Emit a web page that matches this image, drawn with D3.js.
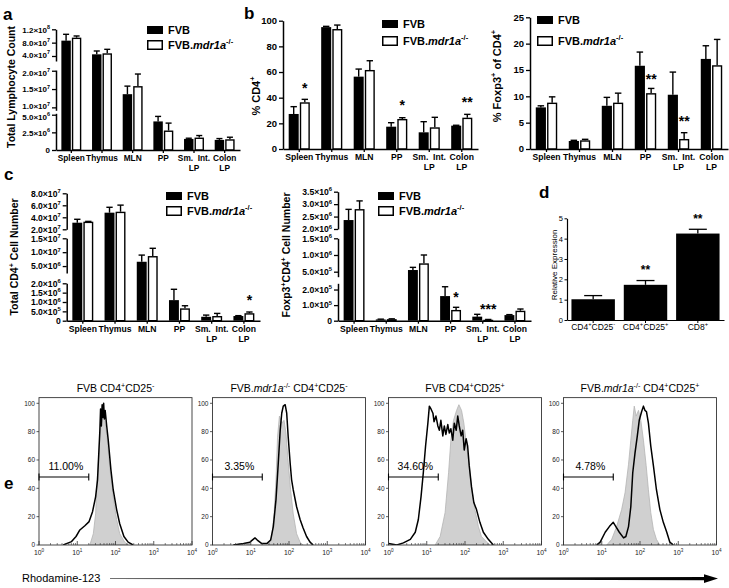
<!DOCTYPE html>
<html><head><meta charset="utf-8">
<script src="https://cdn.jsdelivr.net/npm/d3@7"></script>
<style>body{margin:0;background:#fff}svg{display:block}</style>
</head><body>
<svg id="fig" width="729" height="588"></svg>
<script>
// ================= DATA =================
const categories = ["Spleen","Thymus","MLN","PP","Sm. Int. LP","Colon LP"];
const seriesNames = ["FVB","FVB.<i>mdr1a</i><sup>-/-</sup>"];

// a: Total lymphocyte count
const aFVB    = [8.6e7, 4.5e7, 1.36e7, 4.05e6, 1.57e6, 1.43e6];
const aFVBsem = [1.9e7, 1.0e7, 0.22e7, 0.71e6, 0.10e6, 0.19e6];
const aMdr    = [9.5e7, 4.8e7, 1.58e7, 2.76e6, 1.76e6, 1.52e6];
const aMdrSem = [0.5e7, 1.2e7, 0.33e7, 1.05e6, 0.29e6, 0.29e6];
const aTicks  = [[0, 2.5e6, 5e6], [1e7, 1.5e7, 2e7], [4e7, 8e7, 1.2e8]];

// b left: % CD4+
const bFVB    = [27.3, 95.0, 56.4, 17.4, 13.0, 18.2];
const bFVBsem = [5.7, 0.6, 5.9, 3.1, 8.3, 0.3];
const bMdr    = [36.4, 93.5, 61.6, 23.4, 16.9, 24.4];
const bMdrSem = [2.3, 3.1, 7.2, 1.0, 7.8, 2.6];
const bTicks  = [0, 20, 40, 60, 80, 100];
const bSig    = [["*",0,49],["*",3,35.6],["**",5,38.2]];

// b right: % Foxp3+ of CD4+
const fFVB    = [7.9, 1.52, 8.2, 15.8, 10.3, 17.1];
const fFVBsem = [0.3, 0.13, 1.6, 2.6, 4.3, 2.5];
const fMdr    = [8.8, 1.65, 8.8, 10.6, 1.9, 15.9];
const fMdrSem = [1.1, 0.19, 1.8, 0.9, 1.2, 4.9];
const fTicks  = [0, 5, 10, 15, 20, 25];
const fSig    = [["**",3,13.6],["**",4,5.7]];

// c left: total CD4+ cell number
const cFVB    = [3.1e7, 4.77e7, 6.55e6, 1.1e6, 2.1e5, 2.5e5];
const cFVBsem = [0.57e7, 0.9e7, 2.4e6, 5.8e5, 0.9e5, 0.2e5];
const cMdr    = [3.27e7, 4.93e7, 8.6e6, 6.6e5, 2.5e5, 4.0e5];
const cMdrSem = [0.05e7, 1.1e7, 2.8e6, 1.4e5, 1.4e5, 0.65e5];
const cTicks  = [[0, 5e5, 1e6, 1.5e6, 2e6], [5e6, 1e7, 1.5e7], [2e7, 4e7, 6e7, 8e7]];
const cSig    = [["*",5,1.2e6]];

// c right: Foxp3+CD4+ cell number
const tFVB    = [2.36e6, 8e3, 5.5e5, 1.58e5, 2.6e4, 3.6e4];
const tFVBsem = [0.43e6, 2e3, 0.8e5, 0.6e5, 1.5e4, 0.3e4];
const tMdr    = [2.8e6, 1e4, 7.5e5, 6.9e4, 6e3, 6.4e4];
const tMdrSem = [0.33e6, 2e3, 2.5e5, 1.7e4, 2e3, 1.1e4];
const tTicks  = [[0, 1e5, 2e5], [5e5, 1e6, 1.5e6], [2e6, 2.5e6, 3e6, 3.5e6]];
const tSig    = [["*",3,1.65e5],["***",4,8.8e4]];

// d: relative expression
const dCats   = ["CD4<sup>+</sup>CD25<sup>-</sup>","CD4<sup>+</sup>CD25<sup>+</sup>","CD8<sup>+</sup>"];
const dVals   = [1.02, 1.73, 4.25];
const dSem    = [0.18, 0.21, 0.21];
const dTicks  = [0, 1, 2, 3, 4, 5];
const dSig    = [["",0,0],["**",1,2.6],["**",2,5.1]];

// e: Rhodamine-123 histograms  [intensity, % of max]
const flowTitles = ["FVB CD4<sup>+</sup>CD25<sup>-</sup>",
  "FVB.<i>mdr1a</i><sup>-/-</sup> CD4<sup>+</sup>CD25<sup>-</sup>",
  "FVB CD4<sup>+</sup>CD25<sup>+</sup>",
  "FVB.<i>mdr1a</i><sup>-/-</sup> CD4<sup>+</sup>CD25<sup>+</sup>"];
const gateLabels = ["11.00%","3.35%","34.60%","4.78%"];
const gateRange  = [1, 20];
const flowXTicks = [1, 10, 100, 1000, 10000];
const flowYTicks = [0, 20, 40, 60, 80, 100];
const hist1Gray = [[21.4,0],[26.3,8],[30.2,22],[33.1,46],[36.3,62],[38.9,76],[42.7,86],[47.9,90],[52.5,88],[60.3,76],[70.8,55],[87.1,34],[107,18],[129,8],[174,2],[214,0]];
const hist1Black = [[4.3,0],[5.2,1],[7.1,2.4],[9.3,6],[11.7,10.6],[15.8,13.6],[20.4,16.5],[25.1,23.5],[30.2,34],[33.9,46],[37.2,69],[38.9,80],[40.7,96],[42.7,84],[44.7,99],[46.8,90],[49.0,100],[51.3,89],[53.7,95],[58.9,84],[64.6,74],[75.9,53],[87.1,39],[107,25],[129,15],[166,6],[214,2],[288,0]];
const hist2Gray = [[28.8,0],[35.5,6],[40.7,22],[45.7,46],[50.1,76],[56.2,91],[64.6,86],[74.1,88],[83.2,79],[95.5,58],[110,39],[129,22],[158,8],[195,2],[234,0]];
const hist2Black = [[3.5,0],[6.5,1],[9.5,2],[12.9,5],[14.8,3.5],[19.5,1],[26.3,1],[33.1,3.5],[38.9,13],[45.7,32],[52.5,58],[58.9,81],[64.6,93],[70.8,98],[79.4,99],[87.1,93],[95.5,76],[107,58],[117,46],[129,39],[158,27],[195,18],[234,12],[288,6],[355,2],[427,0]];
const hist3Gray = [[16.6,0],[22.4,6],[30.2,23],[37.2,51],[42.7,74],[50.1,88],[60.3,95],[69.2,99],[81.3,95],[93.3,86],[110,70],[129,56],[148,41],[182,25],[224,13],[269,6],[372,2],[447,0]];
const hist3Black = [[1.0,1],[1.66,0],[2.45,1.5],[3.72,4],[5.01,9],[6.03,18],[7.08,34],[8.13,51],[9.33,70],[10.7,86],[11.7,98],[12.9,96],[14.5,93],[15.5,87],[17.4,91],[19.5,84],[21.4,81],[23.4,88],[26.3,77],[28.8,84],[31.6,78],[35.5,85],[38.9,79],[42.7,82],[47.9,74],[52.5,86],[58.9,81],[64.6,91],[70.8,84],[79.4,77],[87.1,81],[95.5,67],[107,75],[117,70],[129,56],[148,41],[170,30],[200,25],[245,16],[302,9],[407,4],[550,0]];
const hist4Gray = [[13.5,0],[18.2,4],[24.5,13],[33.1,25],[40.7,37],[50.1,57],[57.5,74],[64.6,88],[70.8,98],[79.4,91],[91.2,95],[105,88],[123,74],[145,56],[166,39],[191,23],[224,11],[269,4],[331,0]];
const hist4Black = [[7.4,0],[9.1,2],[12.3,9],[15.8,13],[20.0,16],[23.4,13],[28.8,9],[37.2,5],[42.7,6],[50.1,13],[57.5,27],[64.6,51],[74.1,65],[85.1,77],[95.5,88],[110,94],[123,98],[135,95],[148,94],[166,86],[191,70],[224,56],[269,39],[331,25],[407,16],[501,9],[603,2],[741,0]];
const histGray  = [hist1Gray, hist2Gray, hist3Gray, hist4Gray];
const histBlack = [hist1Black, hist2Black, hist3Black, hist4Black];

// ================= DRAWING =================
const FONT = "'Liberation Sans', Arial, Helvetica, sans-serif";
const svg = d3.select('#fig').attr('font-family', FONT);
svg.append('rect').attr('width',729).attr('height',588).attr('fill','#fff');

function rich(t, str, fs){
  const parts = str.split(/(<i>.*?<\/i>|<sup>.*?<\/sup>)/g).filter(p => p.length);
  let shift = 0;
  parts.forEach(p => {
    const ts = t.append('tspan');
    if (p.startsWith('<sup>')) {
      ts.text(p.slice(5,-6)).attr('font-size', fs*0.68).attr('dy', -fs*0.42);
      shift = fs*0.42;
    } else {
      const it = p.startsWith('<i>');
      ts.text(it ? p.slice(3,-4) : p);
      if (shift) ts.attr('dy', shift);
      if (it) ts.attr('font-style','italic');
      shift = 0;
    }
  });
  return t;
}
function sci(v){
  if (v === 0) return "0";
  const e = Math.floor(Math.log10(v) + 1e-9);
  return (v/Math.pow(10,e)).toFixed(1) + "×10<sup>" + e + "</sup>";
}
function panelLetter(l, x, y){
  svg.append('text').attr('x',x).attr('y',y).attr('font-size',17).attr('font-weight','bold').text(l);
}
function yLabel(str, x, y, fs, bold){
  const t = svg.append('text').attr('transform',`translate(${x},${y}) rotate(-90)`)
    .attr('text-anchor','middle').attr('font-size',fs).attr('font-weight', bold ? 'bold':'normal');
  rich(t, str, fs);
}
function legend(x, y, off){
  svg.append('rect').attr('x',x).attr('y',y).attr('width',16).attr('height',8).attr('fill','#000');
  svg.append('rect').attr('x',x+0.75).attr('y',y+off+0.75).attr('width',14.5).attr('height',8.5)
    .attr('fill','#fff').attr('stroke','#000').attr('stroke-width',1.5);
  rich(svg.append('text').attr('x',x+21).attr('y',y+8).attr('font-size',11).attr('font-weight','bold'), seriesNames[0], 11);
  rich(svg.append('text').attr('x',x+21).attr('y',y+off+9).attr('font-size',11).attr('font-weight','bold'), seriesNames[1], 11);
}

// broken-axis grouped bar chart
function barChart(cfg){
  const g = svg.append('g');
  const segs = cfg.segs.map(s => ({d:s.d, r:s.r, ticks:s.ticks, sc:d3.scaleLinear().domain(s.d).range(s.r)}));
  function y(v){
    for (const s of segs) if (v >= s.d[0] && v <= s.d[1]) return s.sc(v);
    for (let k=0; k<segs.length-1; k++)
      if (v > segs[k].d[1] && v < segs[k+1].d[0])
        return d3.scaleLinear().domain([segs[k].d[1], segs[k+1].d[0]]).range([segs[k].r[1], segs[k+1].r[0]])(v);
    return segs[segs.length-1].sc(v);
  }
  const base = segs[0].r[0];
  const x = d3.scaleBand().domain(categories).range([cfg.x0, cfg.x1]).paddingInner(0.35).paddingOuter(0.175);
  const xs = d3.scaleBand().domain([0,1]).range([0, x.bandwidth()]).paddingInner(0.1);
  const bw = xs.bandwidth();
  const series = [[cfg.s0, cfg.e0],[cfg.s1, cfg.e1]];
  series.forEach(([vals, sems], si) => {
    vals.forEach((v, i) => {
      const bx = x(categories[i]) + xs(si);
      const cx = bx + bw/2;
      const yt = y(v), ye = y(v + sems[i]);
      g.append('line').attr('x1',cx).attr('x2',cx).attr('y1',yt).attr('y2',ye).attr('stroke','#000').attr('stroke-width',1.4);
      g.append('line').attr('x1',cx-bw*0.32).attr('x2',cx+bw*0.32).attr('y1',ye).attr('y2',ye).attr('stroke','#000').attr('stroke-width',1.4);
      if (si === 0) g.append('rect').attr('x',bx).attr('y',yt).attr('width',bw).attr('height',Math.max(0.8, base-yt)).attr('fill','#000');
      else g.append('rect').attr('x',bx+0.7).attr('y',yt+0.7).attr('width',bw-1.4).attr('height',Math.max(0.5, base-yt-0.7))
            .attr('fill','#fff').attr('stroke','#000').attr('stroke-width',1.4);
    });
  });
  // y axis segments
  segs.forEach((s, k) => {
    const ax = g.append('g').attr('transform',`translate(${cfg.x0},0)`)
      .call(d3.axisLeft(s.sc).tickValues(s.ticks).tickSize(4).tickSizeOuter(0).tickFormat(() => ""));
    ax.select('.domain').attr('stroke-width',1.5);
    ax.selectAll('.tick line').attr('stroke-width',1.3);
    s.ticks.forEach((t, j) => {
      let nudge = 0;
      if (cfg.nudge) {
        if (j === s.ticks.length-1 && k < segs.length-1) nudge = cfg.nudge;   // top of lower segment
        if (j === 0 && k > 0) nudge = -cfg.nudge;                            // bottom of upper segment
      }
      rich(g.append('text').attr('x',cfg.x0-6).attr('y',s.sc(t)+3.2+nudge).attr('text-anchor','end')
        .attr('font-size',cfg.tfs).attr('font-weight','bold'), cfg.fmt(t), cfg.tfs);
    });
  });
  // x axis
  const xa = g.append('g').attr('transform',`translate(0,${base})`)
    .call(d3.axisBottom(x).tickSize(3).tickSizeOuter(0).tickFormat(() => ""));
  xa.select('.domain').attr('stroke-width',1.5);
  xa.selectAll('.tick line').attr('stroke-width',1.3);
  categories.forEach(c => {
    const cx = x(c) + x.bandwidth()/2;
    let lines = [c];
    if (c.endsWith(" LP")) lines = [c.slice(0,-3).replace(" ", "\u00a0\u00a0"), "LP"];
    lines.forEach((ln, k) => g.append('text').attr('x',cx).attr('y',base+11+k*10).attr('text-anchor','middle')
      .attr('font-size',cfg.lfs).attr('font-weight','bold').text(ln));
  });
  (cfg.sig || []).forEach(([txt, i, v]) => {
    const cx = x(categories[i]) + xs(1) + bw/2;
    g.append('text').attr('x',cx).attr('y',y(v)+7).attr('text-anchor','middle')
      .attr('font-size',14).attr('font-weight','bold').text(txt);
  });
}

const fmtNum = v => String(v);

// ---- panel a
panelLetter('a', 3, 20);
barChart({x0:56, x1:240, s0:aFVB, e0:aFVBsem, s1:aMdr, e1:aMdrSem, tfs:8, lfs:8.3, fmt:sci, nudge:1.6,
  segs:[{d:[0,5.2e6], r:[150,113.3], ticks:aTicks[0]},
        {d:[9.2e6,2.02e7], r:[110.3,70], ticks:aTicks[1]},
        {d:[2.5e7,1.2e8], r:[61,29.3], ticks:aTicks[2]}]});
legend(147, 26, 14);
yLabel("Total Lymphocyte Count", 15, 87, 10.5, true);

// ---- panel b left
panelLetter('b', 244, 19);
barChart({x0:283, x1:478, s0:bFVB, e0:bFVBsem, s1:bMdr, e1:bMdrSem, tfs:9.5, lfs:8.6, fmt:fmtNum, sig:bSig,
  segs:[{d:[0,100], r:[149,20.7], ticks:bTicks}]});
legend(382, 20, 16);
yLabel("% CD4<sup>+</sup>", 260, 96, 11, true);

// ---- panel b right
barChart({x0:530, x1:728, s0:fFVB, e0:fFVBsem, s1:fMdr, e1:fMdrSem, tfs:9.5, lfs:8.6, fmt:fmtNum, sig:fSig,
  segs:[{d:[0,25], r:[149,17.3], ticks:fTicks}]});
legend(537, 16, 20);
yLabel("% Foxp3<sup>+</sup> of CD4<sup>+</sup>", 501, 76, 11, true);

// ---- panel c left
panelLetter('c', 4, 180);
barChart({x0:66.7, x1:260, s0:cFVB, e0:cFVBsem, s1:cMdr, e1:cMdrSem, tfs:8.6, lfs:8.6, fmt:sci, sig:cSig,
  segs:[{d:[0,2e6], r:[320.7,283.3], ticks:cTicks[0]},
        {d:[2.5e6,1.5e7], r:[273,238.3], ticks:cTicks[1]},
        {d:[2e7,8e7], r:[229.3,193.3], ticks:cTicks[2]}]});
legend(166, 192, 14);
yLabel("Total CD4<sup>+</sup> Cell Number", 18, 257, 10.5, true);

// ---- panel c right
barChart({x0:338, x1:531, s0:tFVB, e0:tFVBsem, s1:tMdr, e1:tMdrSem, tfs:8.6, lfs:8.6, fmt:sci, sig:tSig,
  segs:[{d:[0,2.4e5], r:[320.7,283.3], ticks:tTicks[0]},
        {d:[3.5e5,1.5e6], r:[276.7,238.3], ticks:tTicks[1]},
        {d:[2e6,3.5e6], r:[229,191.7], ticks:tTicks[2]}]});
legend(378, 192, 14);
yLabel("Foxp3<sup>+</sup>CD4<sup>+</sup> Cell Number", 290, 255, 10.5, true);

// ---- panel d
panelLetter('d', 539, 198);
(function(){
  const g = svg.append('g');
  const x = d3.scaleBand().domain(dCats).range([567, 724]).paddingInner(0.17).paddingOuter(0.085);
  const y = d3.scaleLinear().domain([0,5]).range([320, 218.3]);
  dVals.forEach((v,i) => {
    const bx = x(dCats[i]), cx = bx + x.bandwidth()/2;
    g.append('line').attr('x1',cx).attr('x2',cx).attr('y1',y(v)).attr('y2',y(v+dSem[i])).attr('stroke','#000').attr('stroke-width',1.3);
    g.append('line').attr('x1',cx-9).attr('x2',cx+9).attr('y1',y(v+dSem[i])).attr('y2',y(v+dSem[i])).attr('stroke','#000').attr('stroke-width',1.3);
    g.append('rect').attr('x',bx).attr('y',y(v)).attr('width',x.bandwidth()).attr('height',320-y(v)).attr('fill','#000');
    rich(g.append('text').attr('x',cx).attr('y',330).attr('text-anchor','middle').attr('font-size',8.5), dCats[i], 8.5);
  });
  dSig.forEach(([txt,i,v]) => {
    if (!txt) return;
    g.append('text').attr('x',x(dCats[i])+x.bandwidth()/2).attr('y',y(v)+6.5).attr('text-anchor','middle')
      .attr('font-size',12).attr('font-weight','bold').text(txt);
  });
  const ya = g.append('g').attr('transform','translate(567,0)')
    .call(d3.axisLeft(y).tickValues(dTicks).tickSize(2.5).tickPadding(1.5).tickSizeOuter(0).tickFormat(d3.format('d')));
  ya.select('.domain').attr('stroke-width',1.2);
  ya.selectAll('text').attr('font-size',7.5).attr('font-family',FONT);
  const xa = g.append('g').attr('transform','translate(0,320)')
    .call(d3.axisBottom(x).tickSize(3).tickSizeOuter(0).tickFormat(() => ""));
  xa.select('.domain').attr('stroke-width',1.2);
  yLabel("Relative Expression", 557, 265, 8, false);
})();

// ---- panel e
panelLetter('e', 4, 489);
const flowX0 = [39, 212.5, 388.5, 563.5];
const flowW = 153, flowBottom = 545;
flowX0.forEach((x0, p) => {
  const g = svg.append('g');
  const x = d3.scaleLog().domain([1, 1e4]).range([x0, x0 + flowW]);
  const y = d3.scaleLinear().domain([0, 100]).range([flowBottom, 403.3]);
  const top = y(104);
  const clipId = 'clip' + p;
  svg.append('clipPath').attr('id', clipId).append('rect').attr('x',x0).attr('y',top).attr('width',flowW).attr('height',flowBottom-top);
  const inner = g.append('g').attr('clip-path', `url(#${clipId})`);
  inner.append('path').datum(histGray[p])
    .attr('d', d3.area().x(d => x(d[0])).y0(flowBottom).y1(d => y(d[1])))
    .attr('fill','#d0d0d0').attr('stroke','#b4b4b4').attr('stroke-width',0.8);
  inner.append('path').datum(histBlack[p])
    .attr('d', d3.line().x(d => x(d[0])).y(d => y(d[1])))
    .attr('fill','none').attr('stroke','#000').attr('stroke-width',1.5).attr('stroke-linejoin','round');
  g.append('rect').attr('x',x0).attr('y',top).attr('width',flowW).attr('height',flowBottom-top)
    .attr('fill','none').attr('stroke','#333').attr('stroke-width',0.9);
  flowYTicks.forEach(t => {
    g.append('line').attr('x1',x0-2.5).attr('x2',x0).attr('y1',y(t)).attr('y2',y(t)).attr('stroke','#333').attr('stroke-width',0.8);
    g.append('text').attr('x',x0-4).attr('y',y(t)+2.3).attr('text-anchor','end').attr('font-size',6.5).attr('fill','#222').text(t);
  });
  flowXTicks.forEach((t, k) => {
    g.append('line').attr('x1',x(t)).attr('x2',x(t)).attr('y1',flowBottom).attr('y2',flowBottom-4).attr('stroke','#333').attr('stroke-width',0.8);
    rich(g.append('text').attr('x',x(t)).attr('y',flowBottom+10).attr('text-anchor','middle').attr('font-size',6.8).attr('fill','#222'),
      "10<sup>" + k + "</sup>", 6.8);
    if (t < 1e4) for (let m = 2; m <= 9; m++)
      g.append('line').attr('x1',x(t*m)).attr('x2',x(t*m)).attr('y1',flowBottom).attr('y2',flowBottom-2).attr('stroke','#333').attr('stroke-width',0.6);
  });
  const gy = y(48);
  g.append('line').attr('x1',x(gateRange[0])).attr('x2',x(gateRange[1])).attr('y1',gy).attr('y2',gy).attr('stroke','#000').attr('stroke-width',1.1);
  [gateRange[0], gateRange[1]].forEach(v => g.append('line').attr('x1',x(v)).attr('x2',x(v)).attr('y1',gy-3.5).attr('y2',gy+3.5).attr('stroke','#000').attr('stroke-width',1.1));
  g.append('text').attr('x',x(Math.sqrt(gateRange[0]*gateRange[1]))+2).attr('y',gy-7).attr('text-anchor','middle').attr('font-size',10.5).text(gateLabels[p]);
  rich(g.append('text').attr('x',x0+flowW/2).attr('y',392).attr('text-anchor','middle').attr('font-size',10.5), flowTitles[p], 10.5);
});
// Rhodamine-123 arrow
const grad = svg.append('defs').append('linearGradient').attr('id','wedge');
grad.append('stop').attr('offset','0%').attr('stop-color','#444');
grad.append('stop').attr('offset','100%').attr('stop-color','#000');
svg.append('text').attr('x',22).attr('y',582).attr('font-size',11).text('Rhodamine-123');
svg.append('path').attr('d','M110,578.3 L706,577 L706,580.2 L110,578.9 Z').attr('fill','url(#wedge)');
svg.append('path').attr('d','M704,574.3 L718,578.6 L704,583 Z').attr('fill','#000');
</script>
</body></html>
